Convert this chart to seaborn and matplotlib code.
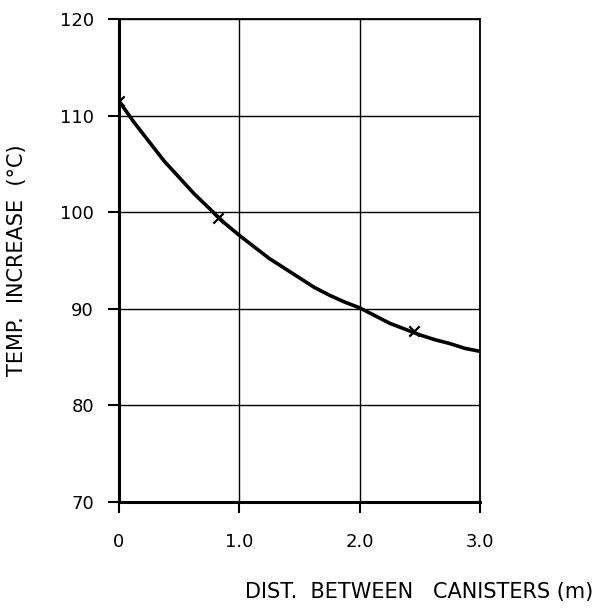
import matplotlib
matplotlib.use("Agg")
import matplotlib.pyplot as plt
import seaborn as sns
import pandas as pd

# Curve
curve_dist = [0.0, 0.125, 0.25, 0.375, 0.5, 0.625, 0.75, 0.875, 1.0, 1.125, 1.25, 1.375,
              1.5, 1.625, 1.75, 1.875, 2.0, 2.125, 2.25, 2.375, 2.5, 2.625, 2.75, 2.875, 3.0]
curve_temp = [111.5, 109.3, 107.3, 105.3, 103.6, 101.9, 100.4, 98.9, 97.6, 96.4, 95.2, 94.2,
              93.2, 92.2, 91.4, 90.7, 90.1, 89.3, 88.5, 87.9, 87.3, 86.8, 86.4, 85.9, 85.6]

# Marked points (x)
point_dist = [0.0, 0.82, 2.45]
point_temp = [111.5, 99.4, 87.7]

x_ticks = [0, 1.0, 2.0, 3.0]
x_tick_labels = ["0", "1.0", "2.0", "3.0"]
y_ticks = [70, 80, 90, 100, 110, 120]
y_tick_labels = ["70", "80", "90", "100", "110", "120"]

sns.set_theme(style="white")
plt.rcParams['font.family'] = ['DejaVu Sans']

curve_df = pd.DataFrame({"dist": curve_dist, "temp": curve_temp})
pts_df = pd.DataFrame({"dist": point_dist, "temp": point_temp})

fig = plt.figure(figsize=(6.03, 6.08), dpi=100)
ax = fig.add_axes([119/603, 1-502/608, 361/603, 483/608])

sns.lineplot(data=curve_df, x="dist", y="temp", ax=ax, color="black", linewidth=2.6, zorder=3)
sns.scatterplot(data=pts_df, x="dist", y="temp", ax=ax, marker="x", color="black", s=55,
                linewidth=1.6, zorder=4)

ax.set_xlim(0, 3.0)
ax.set_ylim(70, 120)
ax.set_xticks(x_ticks)
ax.set_xticklabels(x_tick_labels)
ax.set_yticks(y_ticks)
ax.set_yticklabels(y_tick_labels)

ax.grid(True, color="black", linewidth=1.0)
ax.set_axisbelow(True)
for side, lw in [("left", 2.2), ("bottom", 2.2), ("top", 1.3), ("right", 1.3)]:
    ax.spines[side].set_visible(True)
    ax.spines[side].set_color("black")
    ax.spines[side].set_linewidth(lw)

ax.tick_params(axis="both", direction="out", length=8, width=1.5, colors="black",
               labelsize=13, bottom=True, left=True)
ax.tick_params(axis="x", pad=14)
ax.tick_params(axis="y", pad=10)

ax.set_xlabel("DIST.  BETWEEN   CANISTERS (m)", fontsize=15, color="black")
ax.xaxis.set_label_coords(0.83, -0.165)
ax.set_ylabel("TEMP.  INCREASE  (°C)", fontsize=15, color="black")
ax.yaxis.set_label_coords(-0.255, 0.5)

fig.savefig("out.png", dpi=100, facecolor="white")
